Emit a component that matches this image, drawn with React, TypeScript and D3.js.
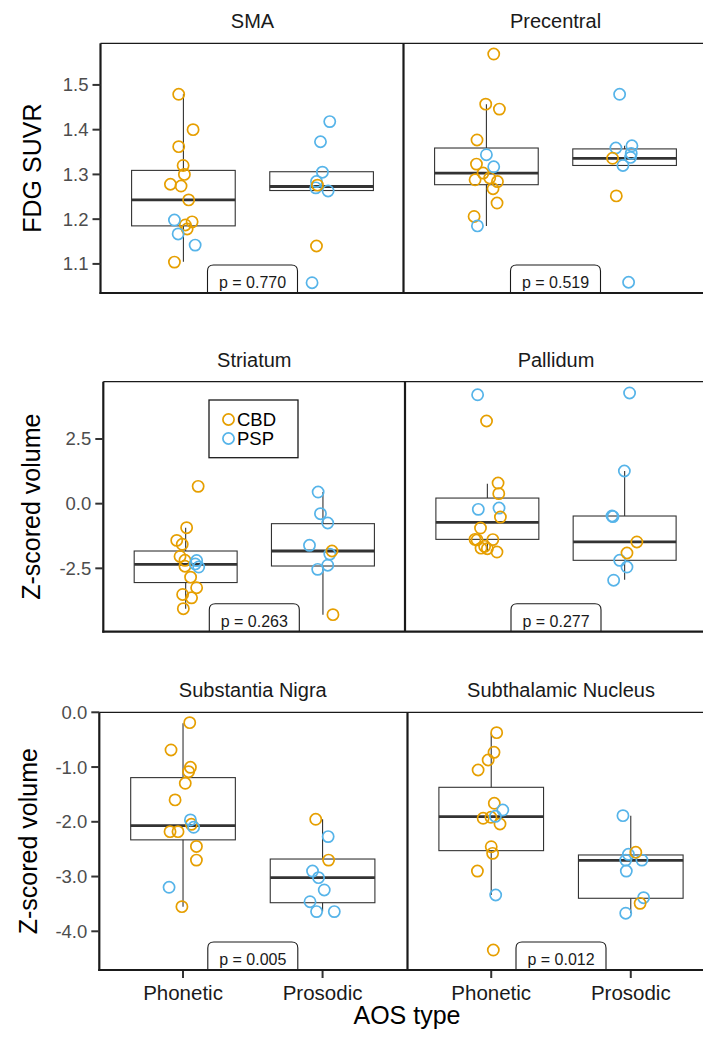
import React, { useEffect, useRef } from "react";
import * as d3 from "d3";

// categories / groups
const categories = ["Phonetic", "Prosodic"];
const groups = ["CBD", "PSP"];
const groupColors = ["#E69F00", "#56B4E9"];

const panelTitles = ["SMA", "Precentral", "Striatum", "Pallidum", "Substantia Nigra", "Subthalamic Nucleus"];
const pValues = ["0.770", "0.519", "0.263", "0.277", "0.005", "0.012"];

// one y axis per row of panels
const rowYLabels = ["FDG SUVR", "Z-scored volume", "Z-scored volume"];
const rowYDomains = [[1.035, 1.593], [-4.95, 4.716], [-4.707, 0]];
const rowYTicks = [[1.1, 1.2, 1.3, 1.4, 1.5], [-2.5, 0, 2.5], [-4, -3, -2, -1, 0]];

// points: [AOS type, group, value, jitter (in category steps)]
const smaPoints = [
  ["Phonetic", "CBD", 1.479, -0.034], ["Phonetic", "CBD", 1.4, 0.07], ["Phonetic", "CBD", 1.362, -0.034],
  ["Phonetic", "CBD", 1.32, -0.002], ["Phonetic", "CBD", 1.3, 0.007], ["Phonetic", "CBD", 1.278, -0.094],
  ["Phonetic", "CBD", 1.274, -0.017], ["Phonetic", "CBD", 1.243, 0.038], ["Phonetic", "CBD", 1.194, 0.063],
  ["Phonetic", "CBD", 1.187, 0.014], ["Phonetic", "CBD", 1.178, 0.027], ["Phonetic", "CBD", 1.104, -0.065],
  ["Phonetic", "PSP", 1.198, -0.065], ["Phonetic", "PSP", 1.167, -0.038], ["Phonetic", "PSP", 1.142, 0.085],
  ["Prosodic", "PSP", 1.418, 0.059], ["Prosodic", "PSP", 1.373, -0.008], ["Prosodic", "PSP", 1.305, 0.006],
  ["Prosodic", "PSP", 1.284, -0.037], ["Prosodic", "PSP", 1.27, -0.042], ["Prosodic", "PSP", 1.263, 0.047],
  ["Prosodic", "PSP", 1.058, -0.069], ["Prosodic", "CBD", 1.276, -0.03], ["Prosodic", "CBD", 1.14, -0.037],
];
const precentralPoints = [
  ["Phonetic", "CBD", 1.569, 0.053], ["Phonetic", "CBD", 1.457, -0.005], ["Phonetic", "CBD", 1.446, 0.094],
  ["Phonetic", "CBD", 1.377, -0.068], ["Phonetic", "CBD", 1.323, -0.072], ["Phonetic", "CBD", 1.303, -0.024],
  ["Phonetic", "CBD", 1.288, -0.082], ["Phonetic", "CBD", 1.292, 0.024], ["Phonetic", "CBD", 1.284, 0.08],
  ["Phonetic", "CBD", 1.268, 0.048], ["Phonetic", "CBD", 1.236, 0.077], ["Phonetic", "CBD", 1.206, -0.089],
  ["Phonetic", "PSP", 1.344, 0], ["Phonetic", "PSP", 1.317, 0.053], ["Phonetic", "PSP", 1.185, -0.065],
  ["Prosodic", "PSP", 1.479, -0.036], ["Prosodic", "PSP", 1.364, 0.053], ["Prosodic", "PSP", 1.359, -0.063],
  ["Prosodic", "PSP", 1.347, 0.048], ["Prosodic", "PSP", 1.338, 0.043], ["Prosodic", "PSP", 1.32, -0.012],
  ["Prosodic", "PSP", 1.059, 0.029], ["Prosodic", "CBD", 1.336, -0.087], ["Prosodic", "CBD", 1.252, -0.06],
];
const striatumPoints = [
  ["Phonetic", "CBD", 0.67, 0.091], ["Phonetic", "CBD", -0.928, 0.007], ["Phonetic", "CBD", -1.42, -0.065],
  ["Phonetic", "CBD", -1.57, -0.025], ["Phonetic", "CBD", -2.04, -0.041], ["Phonetic", "CBD", -2.19, -0.005],
  ["Phonetic", "CBD", -2.42, -0.005], ["Phonetic", "CBD", -2.84, 0.036], ["Phonetic", "CBD", -3.25, 0.08],
  ["Phonetic", "CBD", -3.51, -0.022], ["Phonetic", "CBD", -3.64, 0.043], ["Phonetic", "CBD", -4.06, -0.017],
  ["Phonetic", "PSP", -2.2, 0.08], ["Phonetic", "PSP", -2.33, 0.07], ["Phonetic", "PSP", -2.45, 0.095],
  ["Prosodic", "PSP", 0.45, -0.035], ["Prosodic", "PSP", -0.387, -0.018], ["Prosodic", "PSP", -0.747, 0.035],
  ["Prosodic", "PSP", -1.61, -0.098], ["Prosodic", "PSP", -1.95, 0.05], ["Prosodic", "PSP", -2.38, 0.035],
  ["Prosodic", "PSP", -2.54, -0.038], ["Prosodic", "CBD", -1.83, 0.066], ["Prosodic", "CBD", -4.29, 0.073],
];
const pallidumPoints = [
  ["Phonetic", "PSP", 4.21, -0.071], ["Phonetic", "PSP", -0.22, -0.066], ["Phonetic", "PSP", -0.17, 0.085],
  ["Phonetic", "CBD", 3.196, -0.006], ["Phonetic", "CBD", 0.797, 0.078], ["Phonetic", "CBD", 0.387, 0.083],
  ["Phonetic", "CBD", -0.518, 0.095], ["Phonetic", "CBD", -0.943, -0.05], ["Phonetic", "CBD", -1.38, -0.09],
  ["Phonetic", "CBD", -1.4, -0.075], ["Phonetic", "CBD", -1.39, 0.04], ["Phonetic", "CBD", -1.65, -0.02],
  ["Phonetic", "CBD", -1.72, -0.046], ["Phonetic", "CBD", -1.74, 0], ["Phonetic", "CBD", -1.87, 0.07],
  ["Prosodic", "PSP", 4.28, 0.036], ["Prosodic", "PSP", 1.263, -0.002], ["Prosodic", "PSP", -0.477, -0.092],
  ["Prosodic", "PSP", -0.5, -0.085], ["Prosodic", "PSP", -2.19, -0.036], ["Prosodic", "PSP", -2.45, 0.017],
  ["Prosodic", "PSP", -2.96, -0.08], ["Prosodic", "CBD", -1.48, 0.089], ["Prosodic", "CBD", -1.907, 0.017],
];
const nigraPoints = [
  ["Phonetic", "CBD", -0.189, 0.048], ["Phonetic", "CBD", -0.688, -0.086], ["Phonetic", "CBD", -1.005, 0.053],
  ["Phonetic", "CBD", -1.084, 0.04], ["Phonetic", "CBD", -1.297, 0.016], ["Phonetic", "CBD", -1.6, -0.057],
  ["Phonetic", "CBD", -2.046, 0.06], ["Phonetic", "CBD", -2.18, -0.093], ["Phonetic", "CBD", -2.18, -0.036],
  ["Phonetic", "CBD", -2.45, 0.096], ["Phonetic", "CBD", -2.7, 0.096], ["Phonetic", "CBD", -3.55, -0.008],
  ["Phonetic", "PSP", -1.966, 0.053], ["Phonetic", "PSP", -2.1, 0.076], ["Phonetic", "PSP", -3.196, -0.1],
  ["Prosodic", "CBD", -1.954, -0.049], ["Prosodic", "CBD", -2.7, 0.043], ["Prosodic", "PSP", -2.27, 0.04],
  ["Prosodic", "PSP", -2.9, -0.072], ["Prosodic", "PSP", -3.02, -0.029], ["Prosodic", "PSP", -3.245, 0.012],
  ["Prosodic", "PSP", -3.46, -0.09], ["Prosodic", "PSP", -3.64, -0.043], ["Prosodic", "PSP", -3.64, 0.084],
];
const subthalamicPoints = [
  ["Phonetic", "CBD", -0.372, 0.039], ["Phonetic", "CBD", -0.731, 0.02], ["Phonetic", "CBD", -0.871, -0.022],
  ["Phonetic", "CBD", -1.054, -0.094], ["Phonetic", "CBD", -1.662, 0.022], ["Phonetic", "CBD", -1.936, -0.058],
  ["Phonetic", "CBD", -1.918, -0.002], ["Phonetic", "CBD", -2.04, 0.063], ["Phonetic", "CBD", -2.455, 0],
  ["Phonetic", "CBD", -2.576, 0.01], ["Phonetic", "CBD", -2.9, -0.099], ["Phonetic", "CBD", -4.342, 0.015],
  ["Phonetic", "PSP", -1.785, 0.083], ["Phonetic", "PSP", -1.9, 0.03], ["Phonetic", "PSP", -3.337, 0.032],
  ["Prosodic", "PSP", -1.888, -0.056], ["Prosodic", "PSP", -2.594, -0.017], ["Prosodic", "PSP", -2.7, -0.036],
  ["Prosodic", "PSP", -2.7, 0.08], ["Prosodic", "PSP", -2.9, -0.032], ["Prosodic", "PSP", -3.386, 0.092],
  ["Prosodic", "PSP", -3.67, -0.036], ["Prosodic", "CBD", -2.557, 0.036], ["Prosodic", "CBD", -3.49, 0.067],
];

// box summaries per AOS type: [lower whisker, Q1, median, Q3, upper whisker]
const smaBoxes = [[1.105, 1.185, 1.243, 1.309, 1.479], [1.264, 1.264, 1.273, 1.306, 1.306]];
const precentralBoxes = [[1.185, 1.277, 1.303, 1.359, 1.457], [1.32, 1.32, 1.336, 1.357, 1.364]];
const striatumBoxes = [[-4.06, -3.05, -2.35, -1.83, -0.928], [-4.29, -2.41, -1.83, -0.773, 0.45]];
const pallidumBoxes = [[-1.87, -1.38, -0.723, 0.217, 0.773], [-2.94, -2.19, -1.48, -0.477, 1.263]];
const nigraBoxes = [[-3.55, -2.33, -2.07, -1.193, -0.2], [-3.64, -3.478, -3.02, -2.68, -1.954]];
const subthalamicBoxes = [[-3.337, -2.527, -1.906, -1.37, -0.384], [-3.67, -3.397, -2.703, -2.606, -1.888]];

const panelPoints = [smaPoints, precentralPoints, striatumPoints, pallidumPoints, nigraPoints, subthalamicPoints];
const panelBoxes = [smaBoxes, precentralBoxes, striatumBoxes, pallidumBoxes, nigraBoxes, subthalamicBoxes];

// layout of each row (pixels)
const rowLayout = [
  { top: 43.3, bottom: 293, left: 100.5, right: 403.5, w: 304 },
  { top: 381.7, bottom: 631.7, left: 103.3, right: 405, w: 302 },
  { top: 712.3, bottom: 970, left: 99.3, right: 407.5, w: 307 },
];

const W = 703, H = 1038;
const FONT = "'Liberation Sans', Arial, Helvetica, sans-serif";
const fmt = (v) => d3.format(".1f")(v).replace("\u2212", "-");

export default function App() {
  const ref = useRef(null);

  useEffect(() => {
    const svg = d3.select(ref.current);
    svg.selectAll("*").remove();
    svg.append("rect").attr("width", W).attr("height", H).attr("fill", "#fff");

    const color = d3.scaleOrdinal().domain(groups).range(groupColors);

    rowLayout.forEach((row, r) => {
      const y = d3.scaleLinear().domain(rowYDomains[r]).range([row.bottom, row.top]);
      const g = svg.append("g");

      [row.left, row.right].forEach((x0, c) => {
        const p = r * 2 + c;
        const x = d3.scalePoint().domain(categories).range([x0, x0 + row.w]).padding(0.6);
        const step = x.step();
        const bw = step * 0.75;
        const pg = g.append("g");

        // boxes
        panelBoxes[p].forEach((b, i) => {
          const cx = x(categories[i]);
          const [lo, q1, med, q3, hi] = b;
          pg.append("line").attr("x1", cx).attr("x2", cx).attr("y1", y(q3)).attr("y2", y(hi))
            .attr("stroke", "#333").attr("stroke-width", 1.1);
          pg.append("line").attr("x1", cx).attr("x2", cx).attr("y1", y(q1)).attr("y2", y(lo))
            .attr("stroke", "#333").attr("stroke-width", 1.1);
          pg.append("rect").attr("x", cx - bw / 2).attr("y", y(q3)).attr("width", bw)
            .attr("height", y(q1) - y(q3)).attr("fill", "none")
            .attr("stroke", "#333").attr("stroke-width", 1.1);
          pg.append("line").attr("x1", cx - bw / 2).attr("x2", cx + bw / 2)
            .attr("y1", y(med)).attr("y2", y(med)).attr("stroke", "#333").attr("stroke-width", 2.8);
        });

        // jittered points
        pg.selectAll("circle.pt").data(panelPoints[p]).enter().append("circle")
          .attr("class", "pt")
          .attr("cx", (d) => x(d[0]) + d[3] * step)
          .attr("cy", (d) => y(d[2]))
          .attr("r", 5.6)
          .attr("fill", "none")
          .attr("stroke", (d) => color(d[1]))
          .attr("stroke-width", 1.7);

        // p value label
        const mid = (x(categories[0]) + x(categories[1])) / 2;
        const lw = 90, rr = 6, lt = row.bottom - 28;
        pg.append("path")
          .attr("d", `M${mid - lw / 2},${row.bottom} L${mid - lw / 2},${lt + rr} Q${mid - lw / 2},${lt} ${mid - lw / 2 + rr},${lt} L${mid + lw / 2 - rr},${lt} Q${mid + lw / 2},${lt} ${mid + lw / 2},${lt + rr} L${mid + lw / 2},${row.bottom}`)
          .attr("fill", "#fff").attr("stroke", "#1a1a1a").attr("stroke-width", 1.1);
        pg.append("text").attr("x", mid).attr("y", row.bottom - 5)
          .attr("text-anchor", "middle").attr("font-family", FONT).attr("font-size", 16)
          .attr("fill", "#1a1a1a").text(`p = ${pValues[p]}`);

        // title
        g.append("text").attr("x", x0 + row.w / 2).attr("y", row.top - 15)
          .attr("text-anchor", "middle").attr("font-family", FONT).attr("font-size", 20)
          .attr("fill", "#1a1a1a").text(panelTitles[p]);

        // x axis on last row
        if (r === rowLayout.length - 1) {
          categories.forEach((cat) => {
            g.append("line").attr("x1", x(cat)).attr("x2", x(cat))
              .attr("y1", row.bottom).attr("y2", row.bottom + 8)
              .attr("stroke", "#333").attr("stroke-width", 2);
            g.append("text").attr("x", x(cat)).attr("y", row.bottom + 30)
              .attr("text-anchor", "middle").attr("font-family", FONT).attr("font-size", 20.5)
              .attr("fill", "#1a1a1a").text(cat);
          });
        }
      });

      // frame lines
      g.append("line").attr("x1", row.left).attr("x2", W).attr("y1", row.top).attr("y2", row.top)
        .attr("stroke", "#1a1a1a").attr("stroke-width", 1.3);
      g.append("line").attr("x1", row.right).attr("x2", row.right).attr("y1", row.top).attr("y2", row.bottom)
        .attr("stroke", "#1a1a1a").attr("stroke-width", 2.2);
      g.append("line").attr("x1", row.left).attr("x2", row.left).attr("y1", row.top).attr("y2", row.bottom + 1)
        .attr("stroke", "#1a1a1a").attr("stroke-width", 2.2);
      g.append("line").attr("x1", row.left - 1).attr("x2", W).attr("y1", row.bottom).attr("y2", row.bottom)
        .attr("stroke", "#1a1a1a").attr("stroke-width", 2.2);

      // y axis ticks
      rowYTicks[r].forEach((t) => {
        g.append("line").attr("x1", row.left - 8).attr("x2", row.left)
          .attr("y1", y(t)).attr("y2", y(t)).attr("stroke", "#333").attr("stroke-width", 2);
        g.append("text").attr("x", row.left - 12).attr("y", y(t)).attr("dy", "0.35em")
          .attr("text-anchor", "end").attr("font-family", FONT).attr("font-size", 18.5)
          .attr("fill", "#4d4d4d").text(fmt(t));
      });

      // y axis title
      const yt = (row.top + row.bottom) / 2;
      const xt = row.left - 60 - (r === 1 ? 3 : 0) - (r === 2 ? 2 : 0);
      g.append("text").attr("transform", `translate(${xt},${yt}) rotate(-90)`)
        .attr("text-anchor", "middle").attr("font-family", FONT).attr("font-size", 25)
        .attr("fill", "#000").text(rowYLabels[r]);
    });

    // x axis title
    svg.append("text").attr("x", 407).attr("y", 1024).attr("text-anchor", "middle")
      .attr("font-family", FONT).attr("font-size", 25).attr("fill", "#000").text("AOS type");

    // legend inside the Striatum panel
    const lg = svg.append("g").attr("transform", "translate(209,400)");
    lg.append("rect").attr("width", 89).attr("height", 57.7).attr("fill", "#fff")
      .attr("stroke", "#1a1a1a").attr("stroke-width", 1.3);
    groups.forEach((grp, i) => {
      lg.append("circle").attr("cx", 19.5).attr("cy", 19.5 + i * 19).attr("r", 5.6)
        .attr("fill", "none").attr("stroke", color(grp)).attr("stroke-width", 1.7);
      lg.append("text").attr("x", 28).attr("y", 19.5 + i * 19).attr("dy", "0.36em")
        .attr("font-family", FONT).attr("font-size", 18.5).attr("fill", "#000").text(grp);
    });
  }, []);

  return (
    <svg ref={ref} width={W} height={H}
      style={{ position: "absolute", left: 0, top: 0, display: "block" }} />
  );
}
